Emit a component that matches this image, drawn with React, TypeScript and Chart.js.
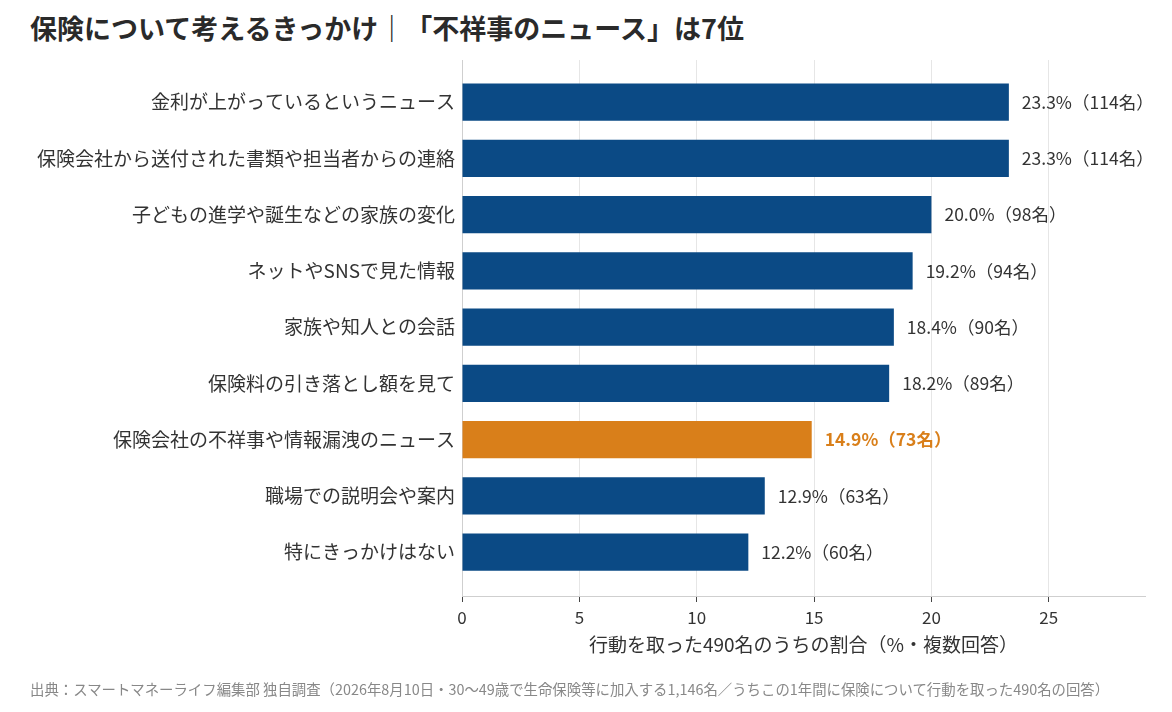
import React, { useEffect, useRef } from 'react';
import { Chart, registerables } from 'chart.js';

Chart.register(...registerables);

const categories = [
  '金利が上がっているというニュース',
  '保険会社から送付された書類や担当者からの連絡',
  '子どもの進学や誕生などの家族の変化',
  'ネットやSNSで見た情報',
  '家族や知人との会話',
  '保険料の引き落とし額を見て',
  '保険会社の不祥事や情報漏洩のニュース',
  '職場での説明会や案内',
  '特にきっかけはない',
];
const percents = [23.3, 23.3, 20.0, 19.2, 18.4, 18.2, 14.9, 12.9, 12.2];
const counts = [114, 114, 98, 94, 90, 89, 73, 63, 60];
const xTicks = [0, 5, 10, 15, 20, 25];
const highlightIndex = 6;

const FONT = '"Noto Sans CJK JP", "Noto Sans", sans-serif';
const NAVY = '#0b4a85';
const ORANGE = '#d97f1a';

const App: React.FC = () => {
  const canvasRef = useRef<HTMLCanvasElement>(null);
  const chartRef = useRef<Chart | null>(null);

  useEffect(() => {
    document.body.style.margin = '0';
    if (!canvasRef.current) return;
    if (chartRef.current) chartRef.current.destroy();

    // value labels at the end of each bar
    const valueLabels = {
      id: 'valueLabels',
      afterDatasetsDraw(chart: Chart) {
        const ctx = chart.ctx;
        const meta = chart.getDatasetMeta(0);
        ctx.save();
        ctx.textBaseline = 'middle';
        ctx.textAlign = 'left';
        meta.data.forEach((bar: any, i: number) => {
          const hl = i === highlightIndex;
          ctx.font = `${hl ? 'bold ' : ''}17.5px ${FONT}`;
          ctx.fillStyle = hl ? ORANGE : '#333';
          ctx.fillText(`${percents[i].toFixed(1)}%（${counts[i]}名）`, bar.x + 13, bar.y);
        });
        ctx.restore();
      },
    };

    chartRef.current = new Chart(canvasRef.current, {
      type: 'bar',
      data: {
        datasets: [
          {
            data: percents.map((v, i) => ({ x: v, y: i })),
            backgroundColor: percents.map((_, i) => (i === highlightIndex ? ORANGE : NAVY)),
            borderWidth: 0,
            barPercentage: 0.66,
            categoryPercentage: 1,
          },
        ],
      },
      options: {
        indexAxis: 'y',
        responsive: false,
        animation: false,
        layout: { padding: { top: 60, right: 27, bottom: 46, left: 0 } },
        plugins: {
          legend: { display: false },
          tooltip: { enabled: false },
        },
        scales: {
          x: {
            type: 'linear',
            position: 'bottom',
            min: 0,
            max: 29.1,
            afterBuildTicks: (scale: any) => {
              scale.ticks = xTicks.map((v) => ({ value: v }));
            },
            afterFit: (scale: any) => {
              scale.height = 70;
            },
            grid: { color: '#e6e6e6', tickLength: 6, tickColor: '#444' },
            border: { color: '#cfcfcf' },
            ticks: { color: '#333', font: { family: FONT, size: 17 }, padding: 5 },
            title: {
              display: true,
              text: '行動を取った490名のうちの割合（%・複数回答）',
              color: '#333',
              font: { family: FONT, size: 19 },
              padding: { top: 4, bottom: 10 },
            },
          },
          y: {
            type: 'linear',
            reverse: true,
            offset: false,
            bounds: 'data',
            min: -0.75,
            max: 8.78,
            afterBuildTicks: (scale: any) => {
              scale.ticks = categories.map((_, i) => ({ value: i }));
            },
            afterFit: (scale: any) => {
              scale.width = 462;
            },
            grid: { display: false, drawTicks: false, offset: false },
            border: { display: true, color: '#cfcfcf' },
            ticks: {
              autoSkip: false,
              padding: 7,
              color: '#333',
              font: { family: FONT, size: 19 },
              callback: (value: any) => categories[value] ?? '',
            },
          },
        },
      },
      plugins: [valueLabels],
    } as any);

    return () => {
      if (chartRef.current) {
        chartRef.current.destroy();
        chartRef.current = null;
      }
    };
  }, []);

  return (
    <div style={{ position: 'relative', width: 1172, height: 712, background: '#fff', fontFamily: FONT }}>
      <div
        style={{
          position: 'absolute',
          left: 30,
          top: 12,
          fontSize: 27,
          lineHeight: '32px',
          fontWeight: 700,
          color: '#2a2a2a',
          whiteSpace: 'nowrap',
        }}
      >
        保険について考えるきっかけ｜「不祥事のニュース」は7位
      </div>
      <canvas ref={canvasRef} width={1172} height={712} style={{ position: 'absolute', left: 0, top: 0 }} />
      <div
        style={{
          position: 'absolute',
          left: 30,
          top: 680,
          fontSize: 14.4,
          lineHeight: '17px',
          color: '#888',
          whiteSpace: 'nowrap',
        }}
      >
        出典：スマートマネーライフ編集部 独自調査（2026年8月10日・30～49歳で生命保険等に加入する1,146名／うちこの1年間に保険について行動を取った490名の回答）
      </div>
    </div>
  );
};

export default App;
